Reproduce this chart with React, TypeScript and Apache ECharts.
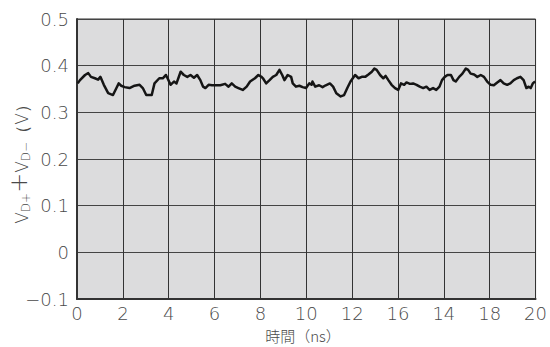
import React, { useEffect, useRef } from "react";
import * as echarts from "echarts";

// Sampled waveform: time (ns) and summed voltage VD+ + VD− (V)
const timeNs: number[] = [
  0.03, 0.13, 0.35, 0.49, 0.61, 0.78, 0.92, 1.02, 1.17, 1.36, 1.57, 1.72, 1.82, 1.93,
  2.08, 2.29, 2.51, 2.73, 2.87, 3.02, 3.26, 3.38, 3.59, 3.74, 3.88, 3.96,
  4.08, 4.23, 4.34, 4.52, 4.66, 4.81, 4.95, 5.1, 5.24, 5.38, 5.5, 5.6, 5.74, 5.89,
  6.03, 6.25, 6.46, 6.61, 6.75, 6.9, 7.04, 7.23, 7.4, 7.55, 7.76, 7.91,
  8.05, 8.11, 8.25, 8.4, 8.54, 8.69, 8.83, 8.95, 9.05, 9.19, 9.34, 9.41, 9.55, 9.7, 9.84,
  9.99, 10.13, 10.23, 10.27, 10.39, 10.56, 10.71, 10.85, 11.03, 11.17, 11.31, 11.5, 11.65, 11.79, 11.93,
  12.06, 12.13, 12.28, 12.42, 12.57, 12.71, 12.86, 12.97, 13.07, 13.22, 13.36, 13.46, 13.58, 13.72, 13.87,
  14.01, 14.13, 14.27, 14.37, 14.52, 14.66, 14.81, 14.95, 15.1, 15.24, 15.38, 15.53, 15.67, 15.81, 15.92,
  16.04, 16.16, 16.31, 16.42, 16.52, 16.67, 16.81, 16.96, 17.06, 17.17, 17.32, 17.46, 17.61, 17.75, 17.89,
  18.04, 18.18, 18.33, 18.47, 18.61, 18.76, 18.9, 19.05, 19.19, 19.34, 19.48, 19.6, 19.7, 19.79, 19.88, 19.98,
];

const voltage: number[] = [
  0.362, 0.369, 0.38, 0.384, 0.376, 0.373, 0.37, 0.376, 0.359, 0.341, 0.337, 0.352, 0.362, 0.357,
  0.354, 0.352, 0.357, 0.359, 0.352, 0.337, 0.337, 0.362, 0.373, 0.373, 0.38, 0.372,
  0.359, 0.366, 0.362, 0.387, 0.38, 0.376, 0.38, 0.374, 0.38, 0.369, 0.355, 0.352, 0.359, 0.358,
  0.358, 0.358, 0.361, 0.355, 0.362, 0.355, 0.352, 0.348, 0.355, 0.366, 0.373, 0.38,
  0.376, 0.373, 0.362, 0.369, 0.376, 0.38, 0.391, 0.38, 0.369, 0.38, 0.376, 0.362, 0.355, 0.357, 0.354,
  0.352, 0.362, 0.359, 0.366, 0.355, 0.358, 0.354, 0.358, 0.362, 0.355, 0.341, 0.334, 0.337, 0.352, 0.366,
  0.375, 0.38, 0.373, 0.376, 0.376, 0.381, 0.387, 0.394, 0.391, 0.38, 0.373, 0.378, 0.369, 0.359, 0.352,
  0.348, 0.362, 0.359, 0.364, 0.361, 0.362, 0.359, 0.355, 0.352, 0.355, 0.348, 0.352, 0.348, 0.355, 0.369,
  0.376, 0.38, 0.38, 0.369, 0.366, 0.376, 0.383, 0.394, 0.391, 0.383, 0.381, 0.376, 0.38, 0.376, 0.366,
  0.359, 0.358, 0.364, 0.369, 0.362, 0.359, 0.362, 0.369, 0.373, 0.376, 0.369, 0.352, 0.355, 0.352, 0.362, 0.366,
];

// Time-axis tick labels, in the order printed on the axis
const xTickLabels: string[] = ["0", "2", "4", "6", "8", "10", "12", "16", "14", "18", "20"];

const yTickValues: number[] = [-0.1, 0, 0.1, 0.2, 0.3, 0.4, 0.5];

const FONT = "'DejaVu Sans', 'Liberation Sans', sans-serif";
const LABEL_COLOR = "#4a4a4a";

export default function App() {
  const ref = useRef<HTMLDivElement>(null);

  useEffect(() => {
    if (!ref.current) return;
    const chart = echarts.init(ref.current, undefined, { renderer: "svg" });

    const seriesData = timeNs.map((t, i) => [t, voltage[i]]);

    chart.setOption({
      animation: false,
      grid: {
        left: 77,
        right: 11,
        top: 19,
        bottom: 48,
        show: true,
        backgroundColor: "#dcdcdd",
        borderColor: "#333",
        borderWidth: 1,
      },
      xAxis: {
        type: "value",
        min: 0,
        max: 20,
        interval: 2,
        axisLine: { show: true, onZero: false, lineStyle: { color: "#333", width: 2 } },
        axisTick: { show: false },
        splitLine: { show: true, lineStyle: { color: "#333", width: 1 } },
        axisLabel: {
          margin: 5,
          fontFamily: FONT,
          fontWeight: 200,
          fontSize: 18,
          color: LABEL_COLOR,
          formatter: (v: number) => {
            const idx = Math.round(v / 2);
            return xTickLabels[idx] ?? "";
          },
        },
      },
      yAxis: {
        type: "value",
        min: yTickValues[0],
        max: yTickValues[yTickValues.length - 1],
        interval: 0.1,
        axisLine: { show: true, lineStyle: { color: "#333", width: 2 } },
        axisTick: { show: false },
        splitLine: { show: true, lineStyle: { color: "#444", width: 1 } },
        axisLabel: {
          margin: 8,
          fontFamily: FONT,
          fontWeight: 200,
          fontSize: 18,
          color: LABEL_COLOR,
          formatter: (v: number) => {
            const r = Math.round(v * 10) / 10;
            if (r === 0) return "0";
            return r < 0 ? "\u2212" + Math.abs(r).toFixed(1) : r.toFixed(1);
          },
        },
      },
      graphic: [
        {
          type: "text",
          x: 19,
          y: 160,
          rotation: Math.PI / 2,
          style: {
            text: "{v|V}{s|D+}{p|+}{v|V}{s|D\u2212}{v|（V）}",
            align: "center",
            verticalAlign: "middle",
            fill: LABEL_COLOR,
            rich: {
              v: { fontFamily: FONT, fontWeight: 200, fontSize: 17, fill: LABEL_COLOR, lineHeight: 22, verticalAlign: "bottom" },
              s: { fontFamily: FONT, fontWeight: 200, fontSize: 12, fill: LABEL_COLOR, lineHeight: 22, verticalAlign: "bottom", padding: [0, 0, -2, 0] },
              p: { fontFamily: FONT, fontWeight: 200, fontSize: 24, fill: LABEL_COLOR, lineHeight: 22, verticalAlign: "bottom", padding: [0, 0, -1, 0] },
            },
          },
        },
        {
          type: "text",
          x: 303,
          y: 335,
          style: {
            text: "時間（ns）",
            align: "center",
            verticalAlign: "middle",
            fontFamily: "'Noto Sans CJK JP', sans-serif",
            fontWeight: 300,
            fontSize: 15,
            fill: LABEL_COLOR,
          },
        },
      ],
      series: [
        {
          type: "line",
          data: seriesData,
          showSymbol: false,
          symbol: "none",
          lineStyle: { color: "#151515", width: 2.5, join: "round" },
        },
      ],
    });

    return () => chart.dispose();
  }, []);

  return <div ref={ref} style={{ width: 550, height: 347, position: "absolute", left: 0, top: 0 }} />;
}
